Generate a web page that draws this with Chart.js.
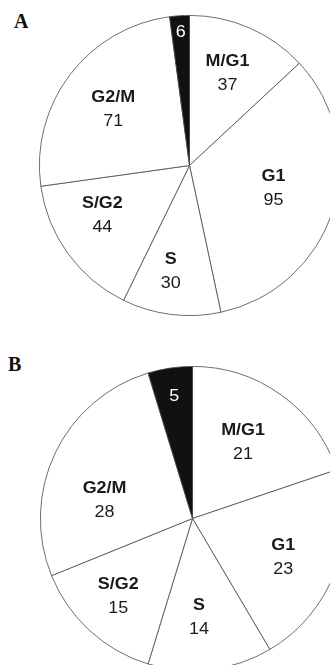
<!DOCTYPE html>
<html>
<head>
<meta charset="utf-8">
<script src="https://cdn.jsdelivr.net/npm/chart.js@4"></script>
<style>
  html, body { margin:0; padding:0; background:#fff; width:330px; height:665px; overflow:hidden; }
  .panel { position:absolute; font:bold 20px "Liberation Serif", serif; color:#111; line-height:20px; }
  canvas { position:absolute; }
</style>
</head>
<body>
<div class="panel" style="left:14px; top:11px;">A</div>
<div class="panel" style="left:8px; top:354px;">B</div>
<canvas id="pieA" width="301" height="301" style="left:38.5px; top:14.5px;"></canvas>
<canvas id="pieB" width="305" height="305" style="left:39.5px; top:365.5px;"></canvas>

<script>
// phases, clockwise from 12 o'clock (last slice is the black one, no name)
const phases = ['M/G1', 'G1', 'S', 'S/G2', 'G2/M', ''];
const countsA = [37, 95, 30, 44, 71, 6];
const countsB = [21, 23, 14, 15, 28, 5];

// label placement: [fraction of radius, angle nudge in degrees]
const labelPosA = [[0.66, -1], [0.58, -2], [0.72, 3], [0.67, 6], [0.63, -1], [0.89, 0]];
const labelPosB = [[0.60, -2], [0.65, 3], [0.65, 3], [0.71, 1], [0.59, -14], [0.81, 0]];

const sliceColors = ['#fff', '#fff', '#fff', '#fff', '#fff', '#111'];

const labelPlugin = {
  id: 'sliceLabels',
  afterDatasetsDraw(chart, args, opts) {
    const ctx = chart.ctx;
    const meta = chart.getDatasetMeta(0);
    const values = chart.data.datasets[0].data;
    meta.data.forEach((arc, i) => {
      const p = opts.pos[i];
      const mid = (arc.startAngle + arc.endAngle) / 2 + p[1] * Math.PI / 180;
      const r = arc.outerRadius * p[0];
      const x = arc.x + Math.cos(mid) * r;
      const y = arc.y + Math.sin(mid) * r;
      const name = chart.data.labels[i];
      ctx.save();
      ctx.textAlign = 'center';
      ctx.textBaseline = 'middle';
      ctx.translate(x, y);
      ctx.scale(1.12, 1);
      if (name) {
        ctx.fillStyle = '#1a1a1a';
        ctx.font = 'bold 16px "Liberation Sans", Arial, sans-serif';
        ctx.fillText(name, 0, -12);
        ctx.font = '16px "Liberation Sans", Arial, sans-serif';
        ctx.fillText(String(values[i]), 0, 12);
      } else {
        ctx.fillStyle = '#fff';
        ctx.font = '16px "Liberation Sans", Arial, sans-serif';
        ctx.fillText(String(values[i]), 0, 0);
      }
      ctx.restore();
    });
  }
};

function makePie(id, counts, pos) {
  new Chart(document.getElementById(id), {
    type: 'pie',
    data: {
      labels: phases,
      datasets: [{
        data: counts,
        backgroundColor: sliceColors,
        borderColor: '#4a4a4a',
        borderWidth: 0.8
      }]
    },
    options: {
      responsive: false,
      animation: false,
      events: [],
      layout: { padding: 0 },
      plugins: {
        legend: { display: false },
        tooltip: { enabled: false },
        sliceLabels: { pos: pos }
      }
    },
    plugins: [labelPlugin]
  });
}

makePie('pieA', countsA, labelPosA);
makePie('pieB', countsB, labelPosB);
</script>
</body>
</html>
